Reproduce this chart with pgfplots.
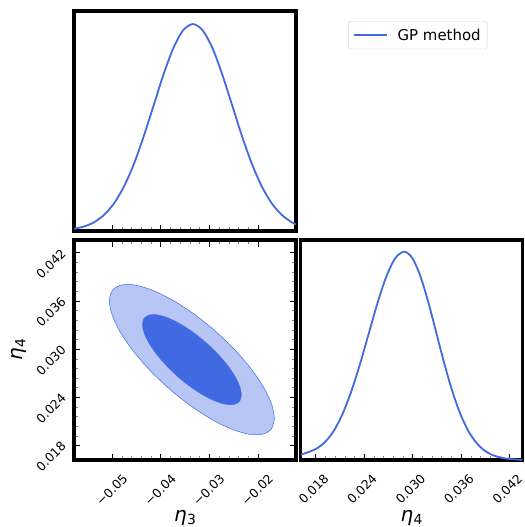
\documentclass[border=0pt]{standalone}
\usepackage{pgfplots}
\pgfplotsset{compat=1.18}
\usepackage{fontspec}
\setmainfont{DejaVu Sans}
\definecolor{royal}{RGB}{65,105,225}
\definecolor{royallight}{RGB}{183,198,244}
\newcommand{\etalab}[1]{{\fontsize{20}{24}\selectfont\textit{η}\kern0.3bp\raisebox{-3bp}{\fontsize{14}{16}\selectfont #1}}}
\pgfplotsset{
  corner/.style={
    scale only axis, width=222bp, height=220bp,
    axis line style={line width=3.3bp, line join=miter},
    tick align=inside,
    major tick length=6.5bp, minor tick length=4.2bp,
    every tick/.style={black, line width=0.8bp},
    every minor tick/.style={gray, line width=0.6bp},
    minor tick num=4,
    scaled ticks=false,
    tick label style={font=\fontsize{12.5}{14}\selectfont},
  },
}
\begin{document}
\begin{tikzpicture}
\path[use as bounding box] (0,0) rectangle (525bp,-527bp);
% top-left marginal
\begin{axis}[corner, at={(74bp,-11bp)}, anchor=north west,
  xmin=-0.0579, xmax=-0.01216, ymin=0, ymax=1.063,
  xtick={-0.05,-0.04,-0.03,-0.02}, xticklabels={{},{},{},{}}, ytick=\empty, xtick pos=left,
  legend style={at={(1.862,0.9545)}, anchor=north east, draw=gray!40,
    rounded corners=2.5bp, font=\fontsize{15}{18}\selectfont, inner xsep=4.5bp, inner ysep=5.5bp},
  legend image code/.code={\draw[#1] (0bp,0bp) -- (33bp,0bp); \path (41bp,0bp);},
  legend cell align=left]
\addplot[royal, line width=1.8bp, smooth] coordinates {
(-0.0579,0.0103) (-0.0577,0.0111) (-0.05568,0.0228) (-0.05365,0.0439)
(-0.05163,0.0796) (-0.0496,0.1353) (-0.04758,0.2163) (-0.04555,0.3247)
(-0.04353,0.4578) (-0.0415,0.6065) (-0.03948,0.7548) (-0.03745,0.8825)
(-0.03543,0.9692) (-0.0334,1) (-0.03138,0.9692) (-0.02935,0.8825)
(-0.02733,0.7548) (-0.0253,0.6065) (-0.02328,0.4578) (-0.02125,0.3247)
(-0.01923,0.2163) (-0.0172,0.1353) (-0.01518,0.0796) (-0.01315,0.0439)
(-0.01216,0.0321)};
\addlegendentry{GP method}
\end{axis}
% bottom-left joint
\begin{axis}[corner, at={(74bp,-240bp)}, anchor=north west,
  xmin=-0.0579, xmax=-0.01216, ymin=0.0162, ymax=0.0436,
  xtick={-0.05,-0.04,-0.03,-0.02}, xticklabels={−0.05,−0.04,−0.03,−0.02},
  ytick={0.018,0.024,0.030,0.036,0.042}, yticklabels={0.018,0.024,0.030,0.036,0.042},
  xticklabel style={xshift=9.5bp, yshift=-8bp, rotate=45, anchor=north east},
  yticklabel style={xshift=-23bp, yshift=-11bp, rotate=45, anchor=center},
  xlabel={\etalab{3}}, ylabel={\etalab{4}},
  xlabel style={at={(axis description cs:0.5,-0.264)}, anchor=center},
  ylabel style={at={(axis description cs:-0.248,0.5)}, anchor=center}]
\addplot[draw=royal, line width=0.5bp, fill=royallight, smooth] coordinates {
(-0.01659,0.021391) (-0.01717,0.023158) (-0.01887,0.025302) (-0.021572,0.027678)
(-0.025095,0.030123) (-0.029198,0.032472) (-0.0336,0.034564) (-0.038002,0.036256)
(-0.042105,0.037433) (-0.045628,0.038014) (-0.04833,0.037962) (-0.05003,0.037278)
(-0.05061,0.036009) (-0.05003,0.034242) (-0.04833,0.032098) (-0.045628,0.029722)
(-0.042105,0.027277) (-0.038002,0.024928) (-0.0336,0.022836) (-0.029198,0.021144)
(-0.025095,0.019967) (-0.021572,0.019386) (-0.01887,0.019438) (-0.01717,0.020122)
(-0.01659,0.021391)};
\addplot[draw=royal, line width=0.3bp, fill=royal, smooth] coordinates {
(-0.023394,0.024315) (-0.023742,0.025375) (-0.024762,0.026661) (-0.026383,0.028087)
(-0.028497,0.029554) (-0.030959,0.030963) (-0.0336,0.032218) (-0.036241,0.033233)
(-0.038703,0.03394) (-0.040817,0.034289) (-0.042438,0.034257) (-0.043458,0.033847)
(-0.043806,0.033085) (-0.043458,0.032025) (-0.042438,0.030739) (-0.040817,0.029313)
(-0.038703,0.027846) (-0.036241,0.026437) (-0.0336,0.025182) (-0.030959,0.024167)
(-0.028497,0.02346) (-0.026383,0.023111) (-0.024762,0.023143) (-0.023742,0.023553)
(-0.023394,0.024315)};
\end{axis}
% bottom-right marginal
\begin{axis}[corner, at={(300.5bp,-240bp)}, anchor=north west,
  xmin=0.0161, xmax=0.0436, ymin=0, ymax=1.056,
  xtick={0.018,0.024,0.030,0.036,0.042}, xticklabels={0.018,0.024,0.030,0.036,0.042},
  ytick=\empty, xtick pos=left,
  xticklabel style={xshift=7bp, yshift=-8bp, rotate=45, anchor=north east},
  xlabel={\etalab{4}},
  xlabel style={at={(axis description cs:0.5,-0.264)}, anchor=center}]
\addplot[royal, line width=1.8bp, smooth] coordinates {
(0.0161,0.025) (0.01685,0.035) (0.01795,0.052) (0.01905,0.083)
(0.02015,0.1353) (0.02125,0.2163) (0.02235,0.3247) (0.02345,0.4578)
(0.02455,0.6065) (0.02565,0.7548) (0.02675,0.8825) (0.02785,0.9692)
(0.02895,1) (0.02995,0.9692) (0.03095,0.8825) (0.03195,0.7548)
(0.03295,0.6065) (0.03395,0.4578) (0.03495,0.3247) (0.03595,0.2163)
(0.03695,0.1353) (0.03795,0.0796) (0.03895,0.0439) (0.03995,0.0228)
(0.04095,0.0111) (0.04195,0.0051) (0.04295,0.0022) (0.0436,0.0012)};
\end{axis}
\end{tikzpicture}
\end{document}
